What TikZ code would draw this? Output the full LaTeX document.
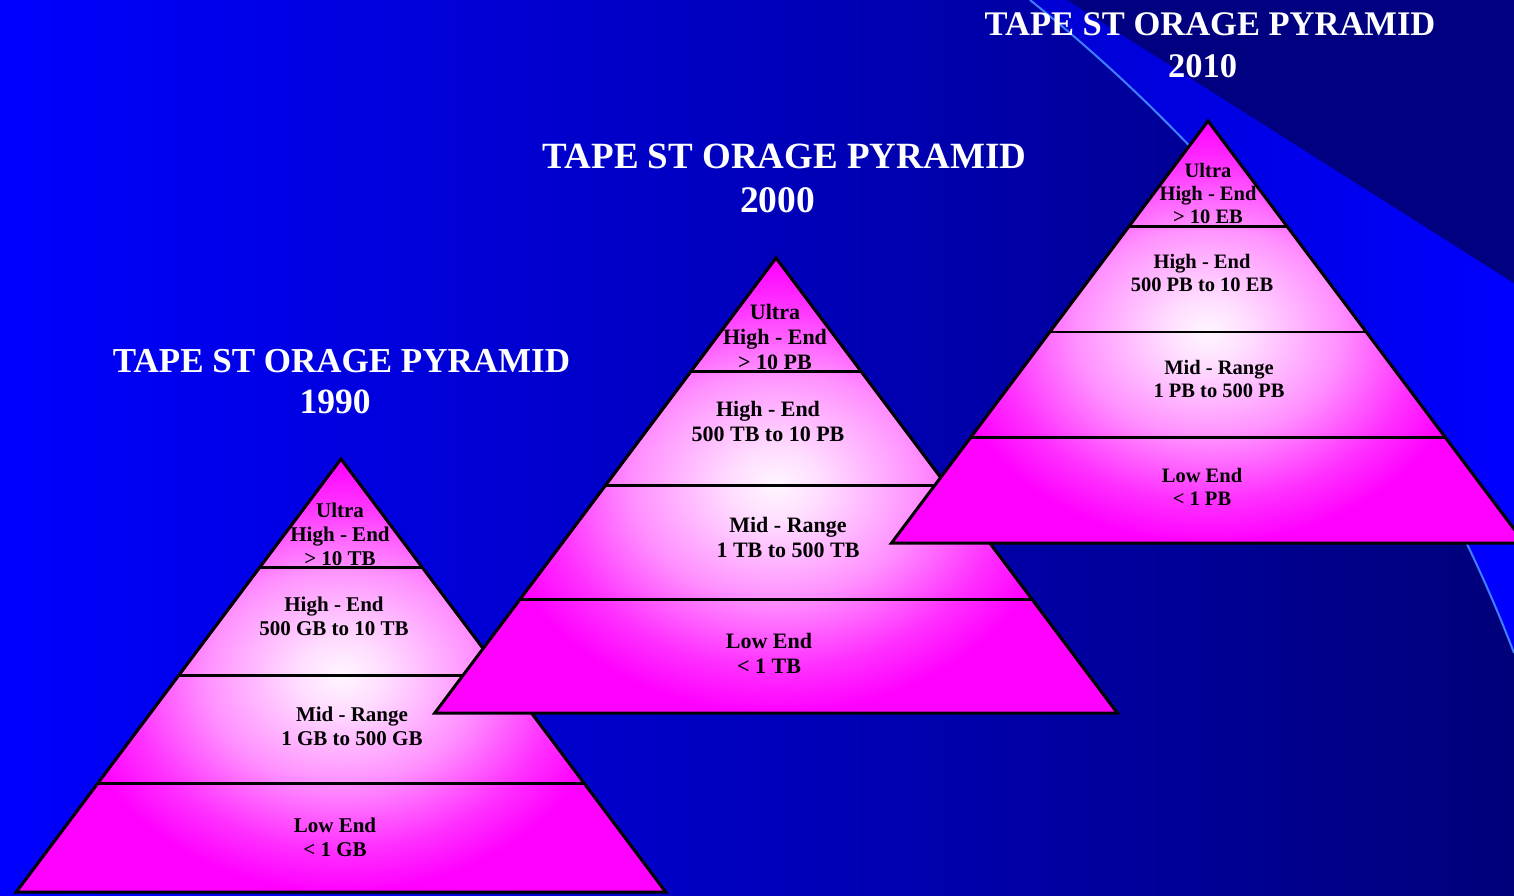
\documentclass[tikz,border=0pt]{standalone}
\usepackage{fontspec}
\setmainfont{Liberation Serif}
\definecolor{bgL}{HTML}{0000FF}
\definecolor{bgM}{HTML}{0000CC}
\definecolor{bgR}{HTML}{00007A}
\definecolor{navyc}{HTML}{000080}
\definecolor{bandL}{HTML}{0000D2}
\definecolor{bandR}{HTML}{0000FF}
\definecolor{lightline}{HTML}{3F7FFF}
\definecolor{pmag}{HTML}{FF00FF}
\definecolor{pwhite}{HTML}{FFF6FF}
\definecolor{pl1}{HTML}{FFDDFF}
\definecolor{pl2}{HTML}{FF90FF}
\definecolor{pl3}{HTML}{FF30FF}
\pgfdeclareradialshading{shdA}{\pgfpoint{0pt}{0pt}}{%
  color(0pt)=(pwhite); color(34.6pt)=(pl1); color(108.3pt)=(pl2); color(173.2pt)=(pl3); color(216.5pt)=(pmag); color(260pt)=(pmag)}
\pgfdeclareradialshading{shdB}{\pgfpoint{0pt}{0pt}}{%
  color(0pt)=(pwhite); color(36.4pt)=(pl1); color(113.8pt)=(pl2); color(182pt)=(pl3); color(227.5pt)=(pmag); color(273pt)=(pmag)}
\pgfdeclareradialshading{shdC}{\pgfpoint{0pt}{0pt}}{%
  color(0pt)=(pwhite); color(33.8pt)=(pl1); color(105.5pt)=(pl2); color(168.8pt)=(pl3); color(211pt)=(pmag); color(253.2pt)=(pmag)}
\tikzset{
  pyrline/.style={draw=black, line width=3pt},
  layerline/.style={draw=black, line width=2.6pt},
  glow/.style={inner sep=0pt, outer sep=0pt, xscale=1.25, transform shape},
  ttl/.style={text=white, inner sep=0pt, anchor=base},
  lbl/.style={text=black, inner sep=0pt, align=center},
  lblA/.style={lbl, font=\bfseries\fontsize{21}{24}\selectfont},
  lblB/.style={lbl, font=\bfseries\fontsize{22}{25}\selectfont},
  lblC/.style={lbl, font=\bfseries\fontsize{20.5}{23}\selectfont},
}
% #1 name, #2 apex x, #3 apex y, #4 height
\newcommand{\drawpyr}[4]{%
  \begin{scope}
    \clip (#2,#3) -- ({#2-0.75*#4},{#3+#4}) -- ({#2+0.75*#4},{#3+#4}) -- cycle;
    \fill[pmag] ({#2-0.75*#4},#3) rectangle ({#2+0.75*#4},{#3+#4});
    \node[glow] (g#1) at (#2,{#3+0.5*#4}) {\pgfuseshading{shd#1}};
  \end{scope}
  \foreach \k in {1,2,3}{
    \draw[layerline] ({#2-0.1875*\k*#4},{#3+0.25*\k*#4}) -- ({#2+0.1875*\k*#4},{#3+0.25*\k*#4});
  }
  \draw[pyrline] (#2,#3) -- ({#2-0.75*#4},{#3+#4}) -- ({#2+0.75*#4},{#3+#4}) -- cycle;
}
\begin{document}
\begin{tikzpicture}[x=1pt,y=-1pt]
\useasboundingbox (0,0) rectangle (1514,895);
\clip (0,0) rectangle (1514,895);
% background
\shade[left color=bgL, middle color=bgM, right color=bgR] (0,0) rectangle (1514,895);
\shade[left color=bandL, right color=bandR] (1030,0) .. controls (1280,200) and (1434,443) .. (1514,653) -- (1514,283) -- (1067,0) -- cycle;
\fill[navyc] (1067,0) -- (1514,283) -- (1514,0) -- cycle;
\draw[lightline, line width=2pt] (1030,0) .. controls (1280,200) and (1434,443) .. (1514,653);
% pyramids
\drawpyr{A}{341}{459}{433}
\drawpyr{B}{776}{258}{455}
\drawpyr{C}{1208}{121}{422}
% pyramid 1990 labels
\node[lblA] (p1u) at (340,534) {Ultra\\High - End\\> 10 TB};
\node[lblA] (p1h) at (334,616) {High - End\\500 GB to 10 TB};
\node[lblA] (p1m) at (352,726) {Mid - Range\\1 GB to 500 GB};
\node[lblA] (p1l) at (335,837) {Low End\\< 1 GB};
% pyramid 2000 labels
\node[lblB] (p2u) at (775,337) {Ultra\\High - End\\> 10 PB};
\node[lblB] (p2h) at (768,421.5) {High - End\\500 TB to 10 PB};
\node[lblB] (p2m) at (788,537.5) {Mid - Range\\1 TB to 500 TB};
\node[lblB] (p2l) at (769,653.5) {Low End\\< 1 TB};
% pyramid 2010 labels
\node[lblC] (p3u) at (1208,193) {Ultra\\High - End\\> 10 EB};
\node[lblC] (p3h) at (1202,272.5) {High - End\\500 PB to 10 EB};
\node[lblC] (p3m) at (1219,379) {Mid - Range\\1 PB to 500 PB};
\node[lblC] (p3l) at (1202,487) {Low End\\< 1 PB};
% titles
\node[ttl, font=\bfseries\fontsize{35}{41}\selectfont] (t1a) at (341.5,372) {TAPE ST ORAGE PYRAMID};
\node[ttl, font=\bfseries\fontsize{35.5}{41}\selectfont] (t1b) at (335,413) {1990};
\node[ttl, font=\bfseries\fontsize{37}{44}\selectfont] (t2a) at (784.5,168) {TAPE ST ORAGE PYRAMID};
\node[ttl, font=\bfseries\fontsize{37.5}{44}\selectfont] (t2b) at (777.5,212) {2000};
\node[ttl, font=\bfseries\fontsize{34.5}{41}\selectfont] (t3a) at (1210,35) {TAPE ST ORAGE PYRAMID};
\node[ttl, font=\bfseries\fontsize{34.5}{41}\selectfont] (t3b) at (1202.5,77) {2010};
\end{tikzpicture}
\end{document}
